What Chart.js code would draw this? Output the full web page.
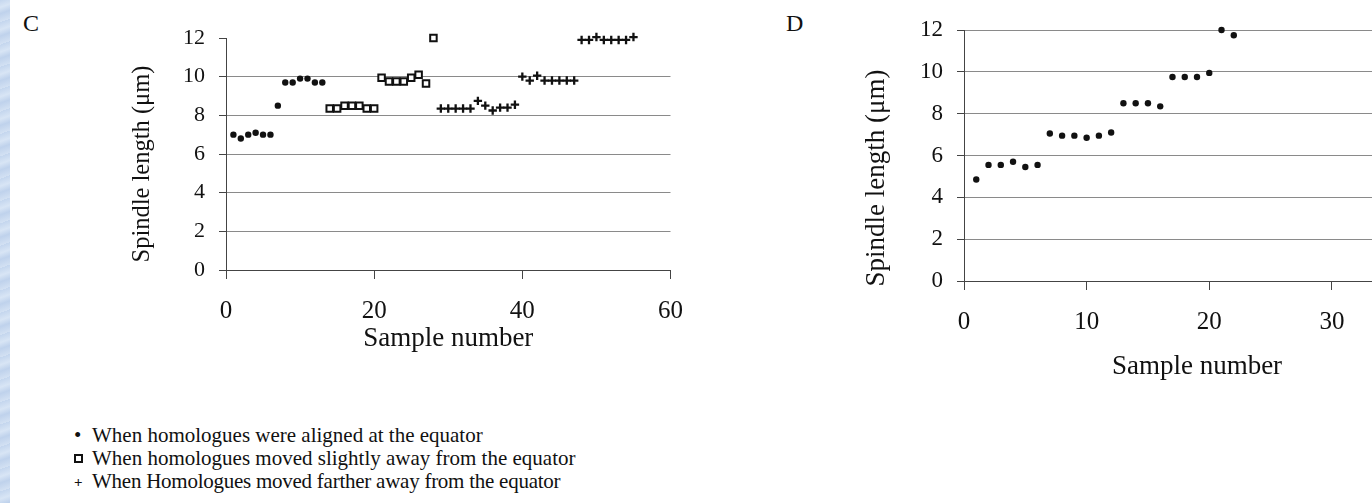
<!DOCTYPE html>
<html>
<head>
<meta charset="utf-8">
<script src="https://cdn.jsdelivr.net/npm/chart.js@4.4.1/dist/chart.umd.min.js"></script>
<style>
  body { margin: 0; width: 1372px; height: 503px; overflow: hidden; background: #fff; position: relative; font-family: "Liberation Serif", serif; color: #111; }
  .strip { position: absolute; left: 0; top: 0; width: 10px; height: 503px;
    background: repeating-linear-gradient(160deg, #c4d6ee 0px, #d8e5f5 7px, #bfd2ec 13px, #d3e1f3 21px); }
  .panel { position: absolute; font-size: 24px; }
  #wrapC { position: absolute; left: 0; top: 0; width: 700px; height: 360px; }
  #wrapD { position: absolute; left: 700px; top: 0; width: 800px; height: 385px; }
  .legend { position: absolute; left: 74px; top: 424px; font-size: 21px; line-height: 23px; }
  .legend div { white-space: nowrap; }
  .sq { display: inline-block; width: 5px; height: 5px; border: 2px solid #111; margin-right: 9px; vertical-align: 2px; }
  .pl { display: inline-block; width: 11px; font-weight: bold; font-size: 15px; margin-right: 7px; vertical-align: 1px; }
  .dot { display: inline-block; width: 11px; margin-right: 7px; }
  .tight { letter-spacing: -0.25px; }
</style>
</head>
<body>
<div class="strip"></div>
<div class="panel" style="left:23px; top:10px;">C</div>
<div class="panel" style="left:786px; top:10px;">D</div>
<div id="wrapC"><canvas id="chartC"></canvas></div>
<div id="wrapD"><canvas id="chartD"></canvas></div>
<div class="legend">
  <div><span class="dot">•</span>When homologues were aligned at the equator</div>
  <div><span class="sq"></span>When homologues moved slightly away from the equator</div>
  <div class="tight"><span class="pl">+</span>When Homologues moved farther away from the equator</div>
</div>
<script>
// panel C
const alignedSamples = [1, 2, 3, 4, 5, 6, 7, 8, 9, 10, 11, 12, 13];
const alignedLengths = [7.0, 6.8, 7.0, 7.1, 7.0, 7.0, 8.5, 9.7, 9.7, 9.9, 9.9, 9.7, 9.7];
const slightSamples = [14, 15, 16, 17, 18, 19, 20, 21, 22, 23, 24, 25, 26, 27, 28];
const slightLengths = [8.35, 8.35, 8.5, 8.5, 8.5, 8.35, 8.35, 9.95, 9.75, 9.75, 9.75, 9.95, 10.1, 9.65, 12.0];
const fartherSamples = [29, 30, 31, 32, 33, 34, 35, 36, 37, 38, 39, 40, 41, 42, 43, 44, 45, 46, 47, 48, 49, 50, 51, 52, 53, 54, 55];
const fartherLengths = [8.35, 8.35, 8.35, 8.35, 8.35, 8.75, 8.5, 8.25, 8.4, 8.4, 8.55, 10.0, 9.8, 10.05, 9.8, 9.8, 9.8, 9.8, 9.8, 11.9, 11.9, 12.05, 11.9, 11.9, 11.9, 11.9, 12.05];

// panel D
const dSamples = [1, 2, 3, 4, 5, 6, 7, 8, 9, 10, 11, 12, 13, 14, 15, 16, 17, 18, 19, 20, 21, 22];
const dLengths = [4.85, 5.55, 5.55, 5.7, 5.45, 5.55, 7.05, 6.95, 6.95, 6.85, 6.95, 7.1, 8.5, 8.5, 8.5, 8.35, 9.75, 9.75, 9.75, 9.95, 12.0, 11.75];

const yTicks = [0, 2, 4, 6, 8, 10, 12];
const xTicksC = [0, 20, 40, 60];
const xTicksD = [0, 10, 20, 30];

const yTitle = "Spindle length (\u03bcm)";
const xTitle = "Sample number";

const pts = (xs, ys) => xs.map((x, i) => ({ x: x, y: ys[i] }));

const serif = "'Liberation Serif', 'Times New Roman', serif";

// rotated y title, placed a bit lower than the plot centre like the scan
const yTitlePlugin = {
  id: "yTitle",
  afterDraw(chart, args, opts) {
    const ctx = chart.ctx;
    ctx.save();
    ctx.translate(opts.x, opts.y);
    ctx.rotate(-Math.PI / 2);
    ctx.font = opts.size + "px " + serif;
    ctx.fillStyle = "#111";
    ctx.textAlign = "center";
    ctx.textBaseline = "middle";
    ctx.fillText(opts.text, 0, 0);
    ctx.restore();
  },
};

function makeScales(o) {
  return {
    x: {
      type: "linear",
      min: 0,
      max: o.xMax,
      afterBuildTicks: (s) => { s.ticks = o.xTicks.map((v) => ({ value: v })); },
      afterFit: (s) => { s.height = o.xHeight; },
      grid: { drawOnChartArea: false, drawTicks: true, tickLength: 9, tickColor: "#444" },
      border: { display: true, color: "#444", width: 1 },
      ticks: { color: "#111", font: { family: serif, size: 25 }, padding: 17, maxRotation: 0 },
      title: { display: true, text: xTitle, color: "#111", font: { family: serif, size: 27 }, padding: { top: 0, bottom: o.xTitlePad } },
    },
    y: {
      type: "linear",
      min: 0,
      max: 12,
      afterBuildTicks: (s) => { s.ticks = yTicks.map((v) => ({ value: v })); },
      afterFit: (s) => { s.width = o.yWidth; },
      grid: {
        color: (c) => (o.hideTopGrid && c.tick && c.tick.value === 12 ? "rgba(0,0,0,0)" : "#8a8a8a"),
        tickColor: "#444",
        tickLength: 7,
      },
      border: { display: true, color: "#444", width: 1 },
      ticks: { color: "#111", font: { family: serif, size: o.yTickSize }, padding: 14 },
      title: { display: false },
    },
  };
}

new Chart(document.getElementById("chartC"), {
  type: "scatter",
  data: {
    datasets: [
      {
        label: "When homologues were aligned at the equator",
        data: pts(alignedSamples, alignedLengths),
        pointStyle: "circle",
        pointRadius: 3.2,
        backgroundColor: "#111",
        borderColor: "#111",
        borderWidth: 0,
        clip: false,
      },
      {
        label: "When homologues moved slightly away from the equator",
        data: pts(slightSamples, slightLengths),
        pointStyle: "rect",
        pointRadius: 4.6,
        backgroundColor: "#fff",
        borderColor: "#111",
        borderWidth: 2,
        clip: false,
      },
      {
        label: "When Homologues moved farther away from the equator",
        data: pts(fartherSamples, fartherLengths),
        pointStyle: "cross",
        pointRadius: 4.2,
        borderColor: "#111",
        borderWidth: 2.3,
        clip: false,
      },
    ],
  },
  options: {
    responsive: true,
    maintainAspectRatio: false,
    animation: false,
    layout: { padding: { left: 120, top: 38, right: 28, bottom: 0 } },
    plugins: {
      legend: { display: false },
      tooltip: { enabled: false },
      yTitle: { text: yTitle, x: 143, y: 164, size: 24.5 },
    },
    scales: makeScales({ xMax: 60, xTicks: xTicksC, yWidth: 106, xHeight: 90, xTitlePad: 5, yTickSize: 22, hideTopGrid: true }),
  },
  plugins: [yTitlePlugin],
});

new Chart(document.getElementById("chartD"), {
  type: "scatter",
  data: {
    datasets: [
      {
        label: "Spindle length",
        data: pts(dSamples, dLengths),
        pointStyle: "circle",
        pointRadius: 3.2,
        backgroundColor: "#111",
        borderWidth: 0,
        clip: false,
      },
    ],
  },
  options: {
    responsive: true,
    maintainAspectRatio: false,
    animation: false,
    layout: { padding: { left: 154, top: 30, right: 70, bottom: 0 } },
    plugins: {
      legend: { display: false },
      tooltip: { enabled: false },
      yTitle: { text: yTitle, x: 177, y: 178, size: 27 },
    },
    scales: makeScales({ xMax: 38, xTicks: xTicksD, yWidth: 110, xHeight: 104, xTitlePad: 2, yTickSize: 23, hideTopGrid: false }),
  },
  plugins: [yTitlePlugin],
});
</script>
</body>
</html>
